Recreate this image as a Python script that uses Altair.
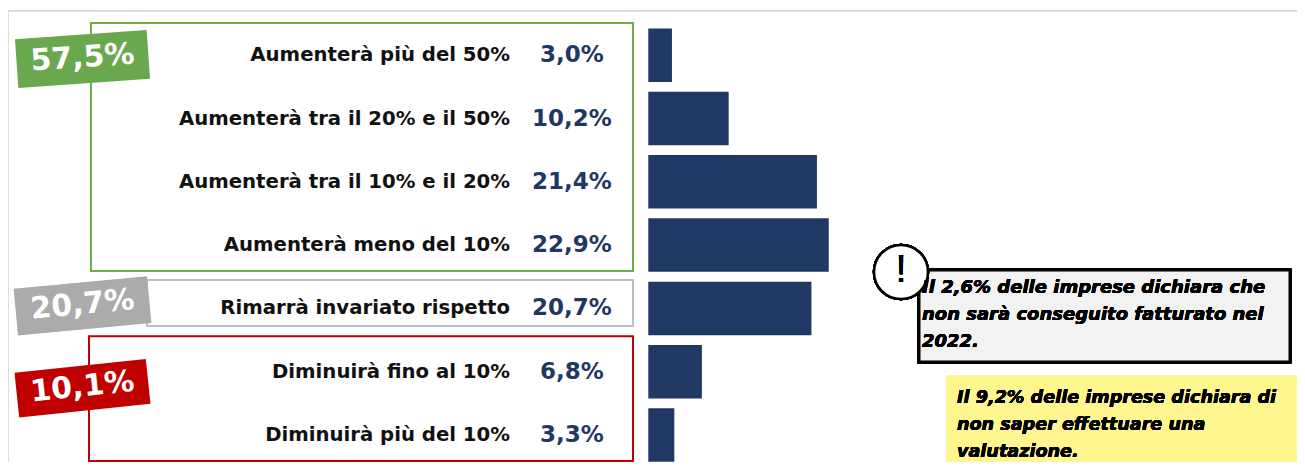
import altair as alt
import pandas as pd

# ---------------- data ----------------
categories = [
    "Aumenterà più del 50%",
    "Aumenterà tra il 20% e il 50%",
    "Aumenterà tra il 10% e il 20%",
    "Aumenterà meno del 10%",
    "Rimarrà invariato rispetto",
    "Diminuirà fino al 10%",
    "Diminuirà più del 10%",
]
values = [3.0, 10.2, 21.4, 22.9, 20.7, 6.8, 3.3]

group_names = ["Aumento", "Invariato", "Diminuzione"]
group_first_row = [0, 4, 5]
group_last_row = [3, 4, 6]
group_totals = ["57,5%", "20,7%", "10,1%"]

note1_lines = ["Il 2,6% delle imprese dichiara che",
               "non sarà conseguito fatturato nel",
               "2022."]
note2_lines = ["Il 9,2% delle imprese dichiara di",
               "non saper effettuare una",
               "valutazione."]

# ---------------- layout / style ----------------
W, H = 1289, 454
ROW_STEP = 63.3
FIRST_ROW_Y = 47.2
BAR_ORIGIN_X = 640.3
PX_PER_UNIT = 7.88
HALF_BAR = 0.4225

BAR_COLOR = "#203864"
VALUE_COLOR = "#1F3864"
FONT = "DejaVu Sans"

group_colors = ["#70AD47", "#BFBFBF", "#C00000"]
badge_colors = ["#6AA84F", "#ABABAB", "#C00000"]
group_box_pad_top = [0.51, 0.45, 0.56]
group_box_pad_bottom = [0.41, 0.28, 0.41]
group_box_left = [83, 139, 81]
badge_offset = [0.06, -0.04, 0.26]
badge_rot = [356, 354.6, 354]
badge_w = [132, 134, 132]
badge_h = [49, 47, 45]

def fmt(v):
    return f"{v:.1f}".replace(".", ",") + "%"

rows = pd.DataFrame({
    "idx": list(range(len(categories))),
    "label": categories,
    "value": values,
    "vtext": [fmt(v) for v in values],
})

groups = pd.DataFrame({
    "name": group_names,
    "lo": [f - p for f, p in zip(group_first_row, group_box_pad_top)],
    "hi": [l + p for l, p in zip(group_last_row, group_box_pad_bottom)],
    "by": [f + o for f, o in zip(group_first_row, badge_offset)],
    "total": group_totals,
    "col": group_colors,
    "bcol": badge_colors,
    "rot": badge_rot,
    "size": [w * w for w in badge_w],
    "path": [f"M-1,-{h / w:.4f}L1,-{h / w:.4f}L1,{h / w:.4f}L-1,{h / w:.4f}Z"
             for w, h in zip(badge_w, badge_h)],
    "left": group_box_left,
})

yscale = alt.Scale(domain=[-FIRST_ROW_Y / ROW_STEP, (H - FIRST_ROW_Y) / ROW_STEP],
                   reverse=True, nice=False, zero=False)
xscale = alt.Scale(domain=[-BAR_ORIGIN_X / PX_PER_UNIT, (W - BAR_ORIGIN_X) / PX_PER_UNIT],
                   nice=False, zero=False)

base = alt.Chart(rows)

bars = base.transform_calculate(
    y0=f"datum.idx - {HALF_BAR}", y1=f"datum.idx + {HALF_BAR}", zero="0"
).mark_rect(color=BAR_COLOR).encode(
    x=alt.X("zero:Q", scale=xscale, axis=None),
    x2="value:Q",
    y=alt.Y("y0:Q", scale=yscale, axis=None),
    y2="y1:Q",
)

labels = base.mark_text(align="right", baseline="middle", font=FONT,
                        fontWeight="bold", fontSize=19.7, color="#111111").encode(
    x=alt.value(502),
    y=alt.Y("idx:Q", scale=yscale, axis=None),
    text="label:N",
)

vlabels = base.mark_text(align="center", baseline="middle", font=FONT,
                         fontWeight="bold", fontSize=23, color=VALUE_COLOR).encode(
    x=alt.value(564),
    y=alt.Y("idx:Q", scale=yscale, axis=None),
    text="vtext:N",
)

gbase = alt.Chart(groups)

boxes = gbase.mark_rect(filled=False, strokeWidth=2).encode(
    x=alt.X("left:Q", scale=None),
    x2=alt.value(625),
    y=alt.Y("lo:Q", scale=yscale, axis=None),
    y2="hi:Q",
    stroke=alt.Stroke("col:N", scale=None),
)

badges = gbase.mark_point(filled=True, opacity=1).encode(
    x=alt.value(74.5),
    y=alt.Y("by:Q", scale=yscale, axis=None),
    shape=alt.Shape("path:N", scale=None),
    size=alt.Size("size:Q", scale=None),
    angle=alt.Angle("rot:Q", scale=None),
    color=alt.Color("bcol:N", scale=None),
)

badge_text = gbase.mark_text(align="center", baseline="middle", font=FONT,
                             fontWeight="bold", fontSize=30, color="white", dy=-1).encode(
    x=alt.value(74.5),
    y=alt.Y("by:Q", scale=yscale, axis=None),
    text="total:N",
    angle=alt.Angle("rot:Q", scale=None),
)

# frame lines
frame_top = alt.Chart(rows).mark_rule(color="#DDDDDD", strokeWidth=2).encode(
    x=alt.value(0), x2=alt.value(W), y=alt.value(3))
frame_left = alt.Chart(rows).mark_rule(color="#DDDDDD", strokeWidth=2).encode(
    x=alt.value(0), y=alt.value(3), y2=alt.value(H))

# notes
note1_box = alt.Chart(rows).mark_rect(fill="#F2F2F2", stroke="black", strokeWidth=3).encode(
    x=alt.value(911), x2=alt.value(1282), y=alt.value(262), y2=alt.value(354))
note1_circle = alt.Chart(rows).mark_point(shape="circle", filled=False, fill="white",
                                          fillOpacity=1, stroke="black", strokeWidth=2.5,
                                          size=2916, opacity=1).encode(
    x=alt.value(893), y=alt.value(264))
note1_bang = alt.Chart(rows).mark_text(font="Liberation Sans", fontSize=38, color="black",
                                       align="center", baseline="middle").encode(
    x=alt.value(893), y=alt.value(263), text=alt.value("!"))
note1_text = alt.Chart(rows).mark_text(font=FONT, fontSize=18, fontWeight="bold",
                                       fontStyle="italic", color="black", align="left",
                                       baseline="alphabetic", lineHeight=27).encode(
    x=alt.value(914), y=alt.value(285), text=alt.value(note1_lines))

note2_box = alt.Chart(rows).mark_rect(fill="#FFF68F").encode(
    x=alt.value(938), x2=alt.value(W), y=alt.value(367), y2=alt.value(H))
note2_text = alt.Chart(rows).mark_text(font=FONT, fontSize=17.6, fontWeight="bold",
                                       fontStyle="italic", color="black", align="left",
                                       baseline="alphabetic", lineHeight=27).encode(
    x=alt.value(949), y=alt.value(395), text=alt.value(note2_lines))

chart = alt.layer(
    frame_top, frame_left, boxes, bars, labels, vlabels, badges, badge_text,
    note1_box, note1_circle, note1_bang, note1_text, note2_box, note2_text,
).properties(
    width=W, height=H, padding=0, autosize=alt.AutoSizeParams(type="none"),
    background="white",
).configure_view(stroke=None)

chart.save("out.html", embed_options={"renderer": "svg", "actions": False})
